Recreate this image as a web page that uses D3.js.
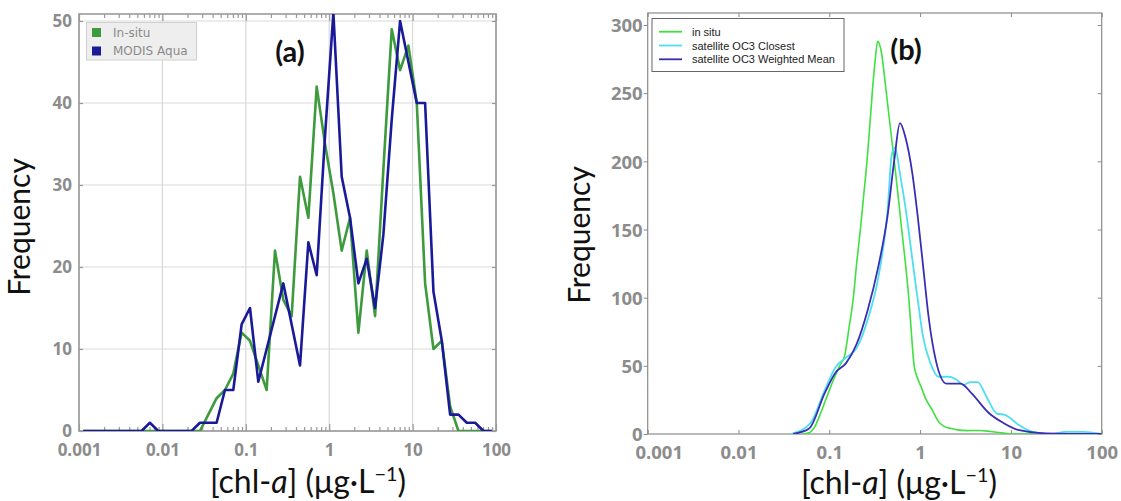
<!DOCTYPE html>
<html><head><meta charset="utf-8">
<script src="https://cdn.jsdelivr.net/npm/d3@7"></script>
<style>body{margin:0;background:#fff;} svg{display:block}</style>
</head><body><svg id="c" width="1121" height="501"></svg>
<script>
// ---------- Panel (a): histogram lines on log bins ----------
const binLogCentersA = [-2.95,-2.85,-2.75,-2.65,-2.55,-2.45,-2.35,-2.25,-2.15,-2.05,
  -1.95,-1.85,-1.75,-1.65,-1.55,-1.45,-1.35,-1.25,-1.15,-1.05,
  -0.95,-0.85,-0.75,-0.65,-0.55,-0.45,-0.35,-0.25,-0.15,-0.05,
  0.05,0.15,0.25,0.35,0.45,0.55,0.65,0.75,0.85,0.95,
  1.05,1.15,1.25,1.35,1.45,1.55,1.65,1.75,1.85,1.95];
const insituA = [0,0,0,0,0,0,0,0,0,0, 0,0,0,0,0,2,4,5,7,12, 11,8,5,22,16,14,31,26,42,35, 29,22,26,12,22,14,32,49,44,47, 40,18,10,11,3,0,0,0,0,0];
const modisA  = [0,0,0,0,0,0,0,0,1,0, 0,0,0,0,1,1,1,5,5,13, 15,6,10,14,18,13,8,23,19,36, 51,31,26,18,21,15,24,38,50,45, 40,40,17,11,2,2,1,1,0,0];
const seriesNamesA = ["In-situ", "MODIS Aqua"];

// ---------- Panel (b): smoothed distributions ----------
const insituBx = [0.05,0.06,0.07,0.08,0.09,0.1,0.115,0.13,0.147,0.165,0.184,0.2,0.22,0.24,0.26,0.28,0.297,0.32,0.341,0.37,0.425,0.47,0.52,0.57,0.627,0.69,0.75,0.8,0.86,0.95,1.02,1.15,1.35,1.6,1.8,2.2,2.6,3.3,4.5,6,8,10,100];
const insituBy = [0,1,6,15,24,32,42,50,57,78,100,125,150,176,200,227,250,274,288,282,250,225,200,176,150,125,100,75,50,40,35,26,18,9,6,4,3,2.5,2.6,1.8,0.8,0,0];
const closestBx = [0.038,0.062,0.089,0.117,0.153,0.2,0.265,0.347,0.436,0.49,0.53,0.6,0.687,0.822,0.944,1.08,1.3,1.6,2.1,2.5,3.0,3.6,4.3,5.5,7,8.6,12,15,21,28,40,62,100];
const closestBy = [0,8,32,49,56,63,84,115,162,206,210,191,167,128,98,71,52,42,42,40,36,38,38,26,15,14,7,3,0.5,0,1.5,1.5,0];
const weightedBx = [0.04,0.06,0.089,0.117,0.153,0.2,0.265,0.347,0.436,0.52,0.6,0.687,0.822,0.944,1.08,1.24,1.49,1.95,2.8,3.67,5.8,8.3,12,24.5,100];
const weightedBy = [0,4,30,45,52,66,91,123,159,201,228,218,191,159,123,86,54,37,37,30,15,8,3,0.5,0];
const seriesNamesB = ["in situ", "satellite OC3 Closest", "satellite OC3 Weighted Mean"];

// ---------- shared ticks ----------
const xTickValues = [0.001, 0.01, 0.1, 1, 10, 100];
const xTickLabels = ["0.001", "0.01", "0.1", "1", "10", "100"];
const yTicksA = [0, 10, 20, 30, 40, 50];
const yTicksB = [0, 50, 100, 150, 200, 250, 300];

const svg = d3.select("#c");
const tickFont = "'Open Sans', sans-serif";
const labelFont = "Lato, 'Open Sans', sans-serif";
const fmtX = d => { const i = xTickValues.indexOf(d); return i >= 0 ? xTickLabels[i] : ""; };

function xLabel(g, cx, by, size) {
  const t = g.append("text").attr("x", cx).attr("y", by).attr("text-anchor", "middle")
    .attr("font-family", labelFont).attr("font-size", size).attr("fill", "#111");
  t.append("tspan").text("[chl-");
  t.append("tspan").attr("font-style", "italic").text("a");
  t.append("tspan").text("] (μg·L");
  t.append("tspan").attr("dy", -size * 0.38).attr("font-size", size * 0.62).text("−1");
  t.append("tspan").attr("dy", size * 0.38).text(")");
}
function yLabel(g, bx, cy, size) {
  g.append("text").attr("transform", `translate(${bx},${cy}) rotate(-90)`)
    .attr("text-anchor", "middle").attr("font-family", labelFont).attr("font-size", size)
    .attr("fill", "#111").text("Frequency");
}

// ================= Panel (a) =================
(function () {
  const L = 79, R = 496, B = 431, T = 14;
  const x = d3.scaleLog().domain([0.001, 100]).range([L, R]);
  const y = d3.scaleLinear().domain([0, 50]).range([B, 21]);
  const g = svg.append("g");
  g.append("clipPath").attr("id", "clipA").append("rect").attr("x", L).attr("y", T).attr("width", R - L).attr("height", B - T);

  // grid
  g.append("g").selectAll("line").data(xTickValues).join("line")
    .attr("x1", d => x(d)).attr("x2", d => x(d)).attr("y1", T).attr("y2", B)
    .attr("stroke", "#d9d9d9").attr("stroke-width", 1.2);
  g.append("g").selectAll("line").data(yTicksA).join("line")
    .attr("x1", L).attr("x2", R).attr("y1", d => y(d)).attr("y2", d => y(d))
    .attr("stroke", "#d9d9d9").attr("stroke-width", 1.2);

  // axes
  const minor = x.ticks();
  const bottom = g.append("g").attr("transform", `translate(0,${B})`)
    .call(d3.axisBottom(x).tickValues(minor).tickSize(-4).tickPadding(15).tickFormat(fmtX));
  const top = g.append("g").attr("transform", `translate(0,${T})`)
    .call(d3.axisTop(x).tickValues(minor).tickSize(-4).tickFormat(""));
  const left = g.append("g").attr("transform", `translate(${L},0)`)
    .call(d3.axisLeft(y).tickValues(yTicksA).tickSize(-4).tickPadding(7));
  const right = g.append("g").attr("transform", `translate(${R},0)`)
    .call(d3.axisRight(y).tickValues(yTicksA).tickSize(-4).tickFormat(""));
  [bottom, top, left, right].forEach(a => {
    a.select(".domain").remove();
    a.selectAll(".tick line").attr("stroke", "#999").attr("stroke-width", 1.2);
    a.selectAll("text").attr("font-family", tickFont).attr("font-weight", "bold")
      .attr("font-size", 17).attr("fill", "#8c8c8c");
  });
  bottom.selectAll(".tick line").attr("y2", d => xTickValues.includes(d) ? -7 : -4);
  top.selectAll(".tick line").attr("y2", d => xTickValues.includes(d) ? 7 : 4);
  bottom.selectAll("text").attr("dy", "0.6em");

  // frame
  g.append("rect").attr("x", L).attr("y", T).attr("width", R - L).attr("height", B - T)
    .attr("fill", "none").attr("stroke", "#9a9a9a").attr("stroke-width", 1.6);

  // lines
  const line = d3.line().x((d, i) => x(Math.pow(10, binLogCentersA[i]))).y(d => y(d));
  const colorsA = ["#3d9a3d", "#1a1a99"];
  [insituA, modisA].forEach((s, k) => {
    g.append("path").attr("d", line(s)).attr("clip-path", "url(#clipA)")
      .attr("fill", "none").attr("stroke", colorsA[k]).attr("stroke-width", 2.6)
      .attr("stroke-linejoin", "round");
  });

  // legend
  const lg = g.append("g");
  lg.append("rect").attr("x", 86.5).attr("y", 22.5).attr("width", 110).attr("height", 37.5)
    .attr("fill", "#eeeeee").attr("stroke", "#d0d0d0").attr("stroke-width", 1);
  seriesNamesA.forEach((n, k) => {
    lg.append("rect").attr("x", 92).attr("y", 28 + k * 18.5).attr("width", 9).attr("height", 9).attr("fill", colorsA[k]);
    lg.append("text").attr("x", 113).attr("y", 36.5 + k * 18.5).attr("font-family", "'DejaVu Sans', sans-serif")
      .attr("font-size", 12).attr("fill", "#8a8a8a").text(n);
  });

  g.append("text").attr("x", 290).attr("y", 62).attr("text-anchor", "middle")
    .attr("font-family", labelFont).attr("font-weight", "bold").attr("font-size", 29).attr("fill", "#111").text("(a)");
  yLabel(g, 30, 227, 30);
  xLabel(g, 308, 493, 32);
})();

// ================= Panel (b) =================
(function () {
  const L = 647.7, R = 1101.7, B = 434, T = 13;
  const x = d3.scaleLog().domain([0.001, 100]).range([L, R]);
  const y = d3.scaleLinear().domain([0, 300]).range([B, 25]);
  const g = svg.append("g");
  g.append("clipPath").attr("id", "clipB").append("rect").attr("x", L).attr("y", T).attr("width", R - L).attr("height", B - T);

  const bottom = g.append("g").attr("transform", `translate(0,${B})`)
    .call(d3.axisBottom(x).tickValues(xTickValues).tickSize(-4).tickPadding(14).tickFormat(fmtX));
  const top = g.append("g").attr("transform", `translate(0,${T})`)
    .call(d3.axisTop(x).tickValues(xTickValues).tickSize(-4).tickFormat(""));
  const left = g.append("g").attr("transform", `translate(${L},0)`)
    .call(d3.axisLeft(y).tickValues(yTicksB).tickSize(4).tickPadding(1));
  const right = g.append("g").attr("transform", `translate(${R},0)`)
    .call(d3.axisRight(y).tickValues(yTicksB).tickSize(-4).tickFormat(""));
  [bottom, top, left, right].forEach(a => {
    a.select(".domain").remove();
    a.selectAll(".tick line").attr("stroke", "#888").attr("stroke-width", 1);
    a.selectAll("text").attr("font-family", tickFont).attr("font-weight", "bold")
      .attr("font-size", 18.5).attr("fill", "#8c8c8c");
  });
  bottom.selectAll("text").attr("dy", "0.6em").attr("dx", d => d === 0.001 ? 11 : 0);
  left.selectAll("text").attr("dy", "0.36em");

  g.append("rect").attr("x", L).attr("y", T).attr("width", R - L).attr("height", B - T)
    .attr("fill", "none").attr("stroke", "#8a8a8a").attr("stroke-width", 1.2);

  const colorsB = ["#3fe03f", "#4fdeee", "#3a2db5"];
  const sets = [[insituBx, insituBy], [closestBx, closestBy], [weightedBx, weightedBy]];
  sets.forEach(([xs, ys], k) => {
    const line = d3.line().curve(d3.curveMonotoneX).x((d, i) => x(xs[i])).y(d => y(d));
    g.append("path").attr("d", line(ys)).attr("clip-path", "url(#clipB)")
      .attr("fill", "none").attr("stroke", colorsB[k]).attr("stroke-width", k === 0 ? 1.6 : 1.8);
  });

  const lg = g.append("g");
  lg.append("rect").attr("x", 652).attr("y", 18.5).attr("width", 192).attr("height", 53)
    .attr("fill", "#fff").attr("stroke", "#666").attr("stroke-width", 1);
  seriesNamesB.forEach((n, k) => {
    const yy = 31.7 + k * 13.8;
    lg.append("line").attr("x1", 659).attr("x2", 682).attr("y1", yy).attr("y2", yy)
      .attr("stroke", colorsB[k]).attr("stroke-width", 1.8);
    lg.append("text").attr("x", 692).attr("y", yy + 4).attr("font-family", "'Liberation Sans', Arial, sans-serif")
      .attr("font-size", 11).attr("fill", "#222").text(n);
  });

  g.append("text").attr("x", 906).attr("y", 60).attr("text-anchor", "middle")
    .attr("font-family", labelFont).attr("font-weight", "bold").attr("font-size", 29).attr("fill", "#111").text("(b)");
  yLabel(g, 590, 235, 30);
  xLabel(g, 899, 494, 32);
})();
</script></body></html>
